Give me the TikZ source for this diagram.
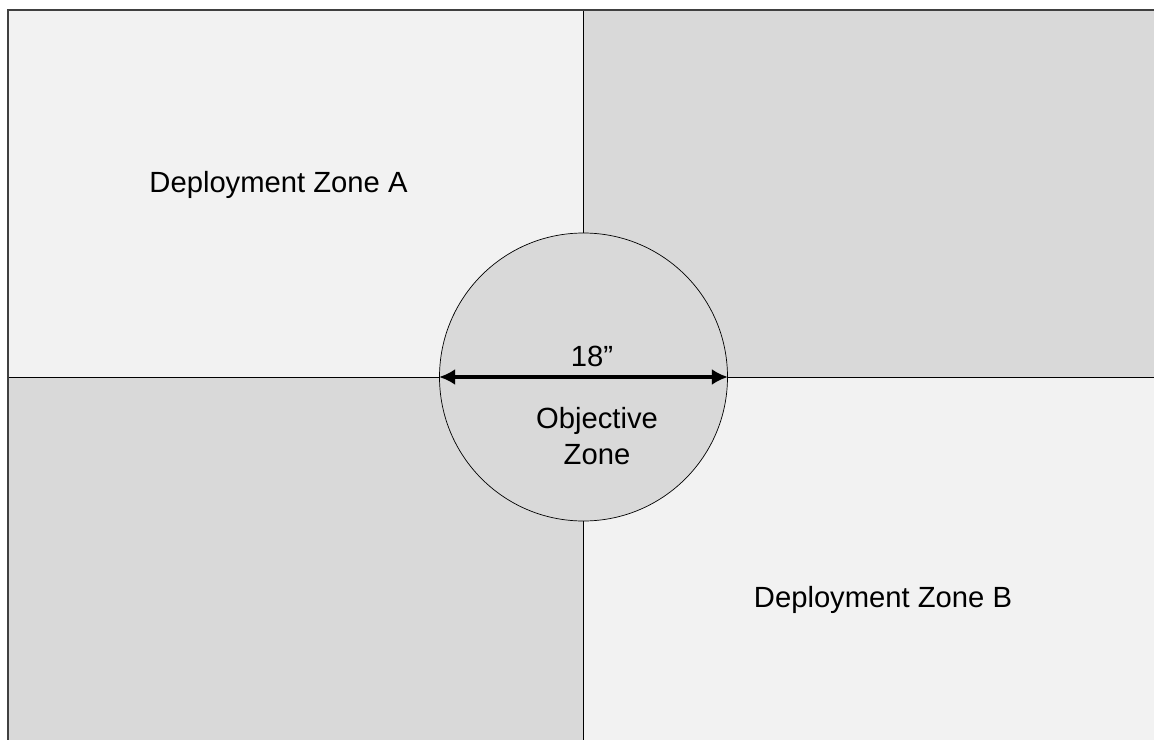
\documentclass[tikz,border=0pt]{standalone}
\usepackage{fontspec}
\setmainfont{Liberation Sans}
\usepackage{tikz}
\usetikzlibrary{arrows.meta}
\definecolor{zonelight}{HTML}{F2F2F2}
\definecolor{zonedark}{HTML}{D9D9D9}
\definecolor{edgegray}{HTML}{404040}

\begin{document}
\begin{tikzpicture}[x=1bp, y=-1bp,
    zonetext/.style={draw=none, font=\fontsize{29.2bp}{36bp}\selectfont},
    divider/.style={line width=1.2bp, black},
    measure/.style={line width=4.2bp, {Latex[length=16bp,width=16bp]}-{Latex[length=16bp,width=16bp]}}]
             \useasboundingbox (0,0) rectangle (1154,740);
             \fill[white] (0,0) rectangle (1154,740);

             % four quarters of the table
             \fill[zonelight] (8,10) rectangle (583.5,377);
             \fill[zonedark] (583.5,10) rectangle (1154,377);
             \fill[zonedark] (8,377) rectangle (583.5,740);
             \fill[zonelight] (583.5,377) rectangle (1154,740);

             \coordinate (top) at (583.5,10);
             \coordinate (bottom) at (583.5,740);
             \coordinate (left) at (8,377);
             \coordinate (right) at (1154,377);

             \node[circle, draw, line width=0.7bp, fill=zonedark, minimum size=288bp, inner sep=0pt] (obj) at (583.5,377) {};

             \draw[divider] (obj.north) -- (top);
             \draw[divider] (obj.south) -- (bottom);
             \draw[line width=0.9bp] (left) -- (obj.west);
             \draw[line width=0.9bp] (obj.east) -- (right);

             % table edge
             \draw[line width=1.6bp, edgegray] (8,740) -- (8,10) -- (1154,10);

             % 18" across the objective
             \draw[measure, black!35, opacity=0.6, xshift=1.5bp, yshift=-2.5bp] (obj.west) -- (obj.east);
             \draw[measure] (obj.west) -- (obj.east);

             \node[zonetext, anchor=base] (size) at (592,366) {18”};
             \node[zonetext, align=center] (objlabel) at (597,436) {Objective\\Zone};
             \node[zonetext, anchor=base] (zonea) at (278.5,192) {Deployment Zone A};
             \node[zonetext, anchor=base] (zoneb) at (883,607) {Deployment Zone B};
\end{tikzpicture}
\end{document}
